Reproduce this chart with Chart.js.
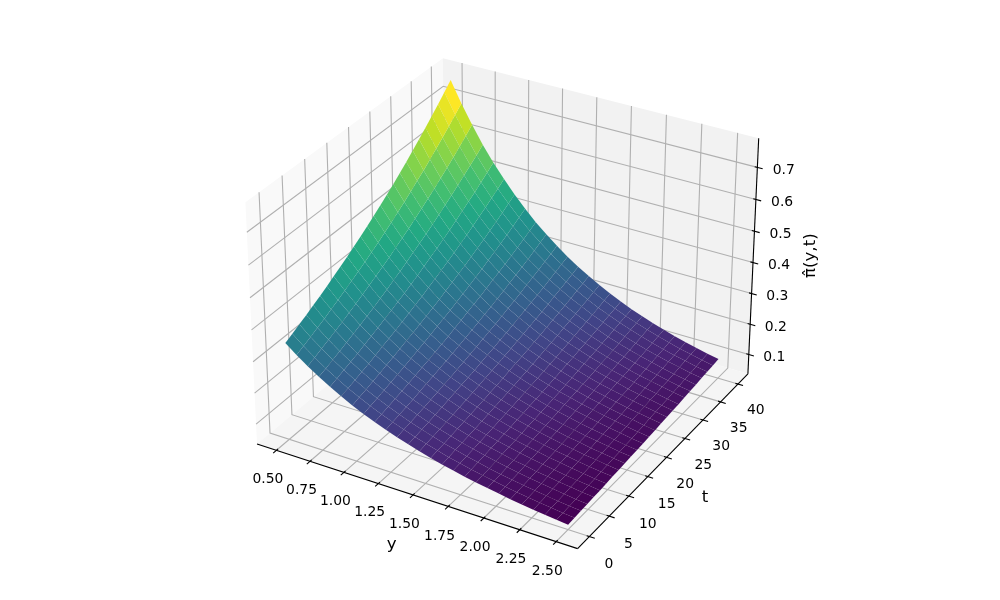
<!DOCTYPE html>
<html>
<head>
<meta charset="utf-8">
<script src="https://cdn.jsdelivr.net/npm/chart.js@4"></script>
<style>body{margin:0;background:#fff}canvas{display:block}</style>
</head>
<body>
<canvas id="surfaceChart" width="1000" height="600"></canvas>
<script>
// values
const yValues = [0.5, 0.58, 0.66, 0.74, 0.82, 0.9, 0.98, 1.06, 1.14, 1.22, 1.3, 1.38, 1.46, 1.54, 1.62, 1.7, 1.78, 1.86, 1.94, 2.02, 2.1, 2.18, 2.26, 2.34, 2.42, 2.5];
const tValues = [0, 1.6, 3.2, 4.8, 6.4, 8, 9.6, 11.2, 12.8, 14.4, 16, 17.6, 19.2, 20.8, 22.4, 24, 25.6, 27.2, 28.8, 30.4, 32, 33.6, 35.2, 36.8, 38.4, 40];
const piGrid = [
  [.345,.356,.368,.379,.392,.404,.417,.431,.445,.459,.474,.489,.505,.521,.538,.555,.573,.592,.611,.631,.651,.672,.694,.716,.739,.763],
  [.318,.328,.338,.349,.360,.372,.384,.396,.409,.422,.435,.449,.463,.478,.493,.509,.525,.542,.560,.577,.596,.615,.635,.655,.676,.697],
  [.293,.302,.312,.322,.332,.342,.353,.364,.376,.388,.400,.412,.425,.439,.453,.467,.482,.497,.513,.529,.546,.563,.581,.599,.618,.638],
  [.270,.278,.287,.296,.305,.315,.325,.335,.345,.356,.367,.379,.391,.403,.416,.429,.442,.456,.470,.485,.500,.516,.532,.548,.565,.583],
  [.249,.257,.265,.273,.281,.290,.299,.308,.318,.328,.338,.348,.359,.370,.382,.394,.406,.418,.431,.445,.459,.473,.487,.503,.518,.534],
  [.230,.237,.244,.252,.259,.267,.276,.284,.293,.302,.311,.321,.330,.341,.351,.362,.373,.384,.396,.408,.421,.434,.447,.461,.475,.490],
  [.212,.219,.225,.232,.239,.247,.254,.262,.270,.278,.286,.295,.304,.313,.323,.333,.343,.353,.364,.375,.386,.398,.410,.423,.436,.449],
  [.196,.202,.208,.214,.221,.227,.234,.241,.249,.256,.264,.272,.280,.288,.297,.306,.315,.325,.334,.345,.355,.366,.377,.388,.400,.412],
  [.181,.187,.192,.198,.204,.210,.216,.223,.229,.236,.243,.250,.258,.266,.274,.282,.290,.299,.308,.317,.326,.336,.346,.356,.367,.378],
  [.168,.173,.178,.183,.188,.194,.200,.206,.212,.218,.224,.231,.238,.245,.252,.260,.267,.275,.283,.292,.300,.309,.318,.328,.338,.348],
  [.155,.160,.164,.169,.174,.179,.184,.190,.195,.201,.207,.213,.219,.226,.232,.239,.246,.254,.261,.269,.277,.285,.293,.302,.310,.320],
  [.144,.148,.152,.156,.161,.166,.171,.176,.181,.186,.191,.197,.203,.208,.215,.221,.227,.234,.241,.248,.255,.262,.270,.278,.286,.294],
  [.133,.137,.141,.145,.149,.153,.158,.162,.167,.172,.177,.182,.187,.193,.198,.204,.210,.216,.222,.228,.235,.242,.249,.256,.263,.271],
  [.123,.127,.130,.134,.138,.142,.146,.150,.154,.159,.163,.168,.173,.178,.183,.188,.194,.199,.205,.211,.217,.223,.229,.236,.243,.250],
  [.114,.117,.121,.124,.128,.131,.135,.139,.143,.147,.151,.155,.160,.164,.169,.174,.179,.184,.189,.195,.200,.206,.212,.218,.224,.230],
  [.106,.109,.112,.115,.118,.122,.125,.129,.132,.136,.140,.144,.148,.152,.156,.161,.165,.170,.175,.180,.185,.190,.195,.201,.207,.212],
  [.098,.101,.104,.107,.110,.113,.116,.119,.123,.126,.130,.133,.137,.141,.145,.149,.153,.157,.162,.166,.171,.176,.181,.186,.191,.196],
  [.091,.094,.096,.099,.102,.105,.107,.110,.114,.117,.120,.123,.127,.130,.134,.138,.142,.146,.150,.154,.158,.162,.167,.172,.176,.181],
  [.085,.087,.089,.092,.094,.097,.100,.102,.105,.108,.111,.114,.118,.121,.124,.128,.131,.135,.139,.142,.146,.150,.155,.159,.163,.168],
  [.079,.081,.083,.085,.088,.090,.093,.095,.098,.100,.103,.106,.109,.112,.115,.118,.121,.125,.128,.132,.135,.139,.143,.147,.151,.155],
  [.073,.075,.077,.079,.081,.084,.086,.088,.091,.093,.096,.098,.101,.104,.107,.110,.113,.116,.119,.122,.125,.129,.132,.136,.140,.144],
  [.068,.070,.072,.074,.076,.078,.080,.082,.084,.087,.089,.091,.094,.096,.099,.102,.105,.107,.110,.113,.116,.120,.123,.126,.130,.133],
  [.063,.065,.067,.069,.070,.072,.074,.076,.078,.080,.083,.085,.087,.090,.092,.094,.097,.100,.102,.105,.108,.111,.114,.117,.120,.123],
  [.059,.061,.062,.064,.066,.067,.069,.071,.073,.075,.077,.079,.081,.083,.086,.088,.090,.093,.095,.098,.100,.103,.106,.109,.112,.115],
  [.055,.056,.058,.059,.061,.063,.064,.066,.068,.070,.071,.073,.075,.077,.079,.082,.084,.086,.088,.091,.093,.096,.098,.101,.104,.106],
  [.051,.053,.054,.055,.057,.058,.060,.062,.063,.065,.067,.068,.070,.072,.074,.076,.078,.080,.082,.085,.087,.089,.092,.094,.096,.099],
];
const yTicks = ["0.50", "0.75", "1.00", "1.25", "1.50", "1.75", "2.00", "2.25", "2.50"];
const tTicks = ["0", "5", "10", "15", "20", "25", "30", "35", "40"];
const piTicks = ["0.1", "0.2", "0.3", "0.4", "0.5", "0.6", "0.7"];
const viridis = ["#440154", "#482475", "#414487", "#355f8d", "#2a788e", "#21918c", "#22a884", "#44bf70", "#7ad151", "#bddf26", "#fde725"];

const yLim = [0.4, 2.6];
const tLim = [-2, 42];
const piLim = [0.0507, 0.7747];

// same camera as a default mplot3d axes (elev 30, azim -60, dist 10)
const box = [1.1428, 1.1428, 0.8571];
const elev = (30 * Math.PI) / 180;
const azim = (-60 * Math.PI) / 180;
const n = [Math.cos(elev) * Math.cos(azim), Math.cos(elev) * Math.sin(azim), Math.sin(elev)];
const u = [-Math.sin(azim), Math.cos(azim), 0];
const v = [-Math.sin(elev) * Math.cos(azim), -Math.sin(elev) * Math.sin(azim), Math.cos(elev)];
const dot = (a, b) => a[0] * b[0] + a[1] * b[1] + a[2] * b[2];

function project(y, t, pi) {
  const d = [
    ((y - yLim[0]) / (yLim[1] - yLim[0]) - 0.5) * box[0],
    ((t - tLim[0]) / (tLim[1] - tLim[0]) - 0.5) * box[1],
    ((pi - piLim[0]) / (piLim[1] - piLim[0]) - 0.5) * box[2],
  ];
  const w = 10 - dot(n, d);
  return { x: dot(u, d) / w, y: dot(v, d) / w, w: w };
}

// panes stick out 1/48 of the range past the limits
const pad = (lim) => [lim[0] - (lim[1] - lim[0]) / 48, lim[1] + (lim[1] - lim[0]) / 48];
const [y0, y1] = pad(yLim);
const [t0, t1] = pad(tLim);
const [p0, p1] = pad(piLim);
const tickY = (lim) => (lim[1] - lim[0]) / 12;

function lerpColor(f) {
  const pos = Math.min(Math.max(f, 0), 1) * (viridis.length - 1);
  const i = Math.min(Math.floor(pos), viridis.length - 2);
  const c = (hex) => [1, 3, 5].map((k) => parseInt(hex.substr(k, 2), 16));
  const a = c(viridis[i]);
  const b = c(viridis[i + 1]);
  const m = a.map((val, k) => Math.round(val + (b[k] - val) * (pos - i)));
  return `rgb(${m[0]},${m[1]},${m[2]})`;
}

const datasets = [];
function addShape(points, color) {
  datasets.push({ data: points, showLine: true, fill: "shape", backgroundColor: color, borderWidth: 0, pointRadius: 0 });
}
function addLine(points, color, width) {
  datasets.push({ data: points, showLine: true, fill: false, borderColor: color, borderWidth: width, pointRadius: 0 });
}

// panes
addShape([project(y0, t0, p0), project(y0, t1, p0), project(y0, t1, p1), project(y0, t0, p1)], "#f9f9f9");
addShape([project(y0, t1, p0), project(y1, t1, p0), project(y1, t1, p1), project(y0, t1, p1)], "#f2f2f2");
addShape([project(y0, t0, p0), project(y1, t0, p0), project(y1, t1, p0), project(y0, t1, p0)], "#f5f5f5");

// grid
const gridColor = "#b0b0b0";
yTicks.forEach((s) => {
  const y = +s;
  addLine([project(y, t0, p0), project(y, t1, p0), project(y, t1, p1)], gridColor, 1.1);
});
tTicks.forEach((s) => {
  const t = +s;
  addLine([project(y1, t, p0), project(y0, t, p0), project(y0, t, p1)], gridColor, 1.1);
});
piTicks.forEach((s) => {
  const pi = +s;
  addLine([project(y0, t0, pi), project(y0, t1, pi), project(y1, t1, pi)], gridColor, 1.1);
});

// axis lines and ticks
addLine([project(y0, t0, p0), project(y1, t0, p0)], "#000", 1.1);
addLine([project(y1, t0, p0), project(y1, t1, p0)], "#000", 1.1);
addLine([project(y1, t1, p0), project(y1, t1, p1)], "#000", 1.1);
const tStep = tickY(tLim);
const yStep = tickY(yLim);
yTicks.forEach((s) => addLine([project(+s, t0 - 0.2 * tStep, p0), project(+s, t0 + 0.1 * tStep, p0)], "#000", 1.1));
tTicks.forEach((s) => addLine([project(y1 + 0.2 * yStep, +s, p0), project(y1 - 0.1 * yStep, +s, p0)], "#000", 1.1));
piTicks.forEach((s) => addLine([project(y1 + 0.2 * yStep, t1, +s), project(y1 - 0.1 * yStep, t1, +s)], "#000", 1.1));

// surface cells, far ones first
const cells = [];
for (let i = 0; i < yValues.length - 1; i++) {
  for (let j = 0; j < tValues.length - 1; j++) {
    const corners = [
      project(yValues[i], tValues[j], piGrid[i][j]),
      project(yValues[i + 1], tValues[j], piGrid[i + 1][j]),
      project(yValues[i + 1], tValues[j + 1], piGrid[i + 1][j + 1]),
      project(yValues[i], tValues[j + 1], piGrid[i][j + 1]),
    ];
    const mean = (piGrid[i][j] + piGrid[i + 1][j] + piGrid[i + 1][j + 1] + piGrid[i][j + 1]) / 4;
    const depth = corners.reduce((acc, c) => acc + c.w, 0) / 4;
    cells.push({ corners, mean, depth });
  }
}
const means = cells.map((c) => c.mean);
const meanMin = Math.min(...means);
const meanMax = Math.max(...means);
cells.sort((a, b) => b.depth - a.depth);
cells.forEach((c) => addShape(c.corners, lerpColor((c.mean - meanMin) / (meanMax - meanMin))));

// later datasets on top
datasets.forEach((d, i) => (d.order = -i));

const labelFont = "13.9px 'DejaVu Sans'";
const titleFont = "16.67px 'DejaVu Sans'";
const textPlugin = {
  id: "axisText",
  afterDraw(chart) {
    const { ctx, scales } = chart;
    const put = (p) => [scales.x.getPixelForValue(p.x), scales.y.getPixelForValue(p.y)];
    ctx.save();
    ctx.fillStyle = "#000";
    ctx.textAlign = "center";
    ctx.textBaseline = "middle";
    ctx.font = labelFont;
    yTicks.forEach((s) => {
      const [px, py] = put(project(+s, t0 - 0.046 * (t1 - t0), p0 - 0.09 * (p1 - p0)));
      ctx.fillText(s, px, py);
    });
    tTicks.forEach((s) => {
      const [px, py] = put(project(y1 + 0.059 * (y1 - y0), +s, p0 - 0.092 * (p1 - p0)));
      ctx.fillText(s, px, py);
    });
    piTicks.forEach((s) => {
      const [px, py] = put(project(y1 + 0.07 * (y1 - y0), t1 + 0.02 * (t1 - t0), +s));
      ctx.fillText(s, px, py);
    });
    ctx.font = titleFont;
    const [ax, ay] = put(project(1.52, t0 - 0.125 * (t1 - t0), p0 - 0.11 * (p1 - p0)));
    ctx.fillText("y", ax, ay);
    const [bx, by] = put(project(y1 + 0.12 * (y1 - y0), 20, p0 - 0.12 * (p1 - p0)));
    ctx.fillText("t", bx, by);
    const [cx, cy] = put(project(y1 + 0.15 * (y1 - y0), t1 + 0.05 * (t1 - t0), 0.44));
    ctx.translate(cx, cy);
    ctx.rotate(-Math.PI / 2);
    ctx.fillText("π̂(y,t)", 0, 0);
    ctx.restore();
  },
};

new Chart(document.getElementById("surfaceChart").getContext("2d"), {
  type: "scatter",
  data: { datasets },
  options: {
    responsive: false,
    animation: false,
    layout: { padding: 0 },
    elements: { line: { tension: 0 } },
    plugins: { legend: { display: false }, tooltip: { enabled: false }, title: { display: false } },
    scales: {
      x: { type: "linear", display: false, min: -507 / 3085, max: 493 / 3085 },
      y: { type: "linear", display: false, min: -308.4 / 3085, max: 291.6 / 3085 },
    },
  },
  plugins: [textPlugin],
});
</script>
</body>
</html>
